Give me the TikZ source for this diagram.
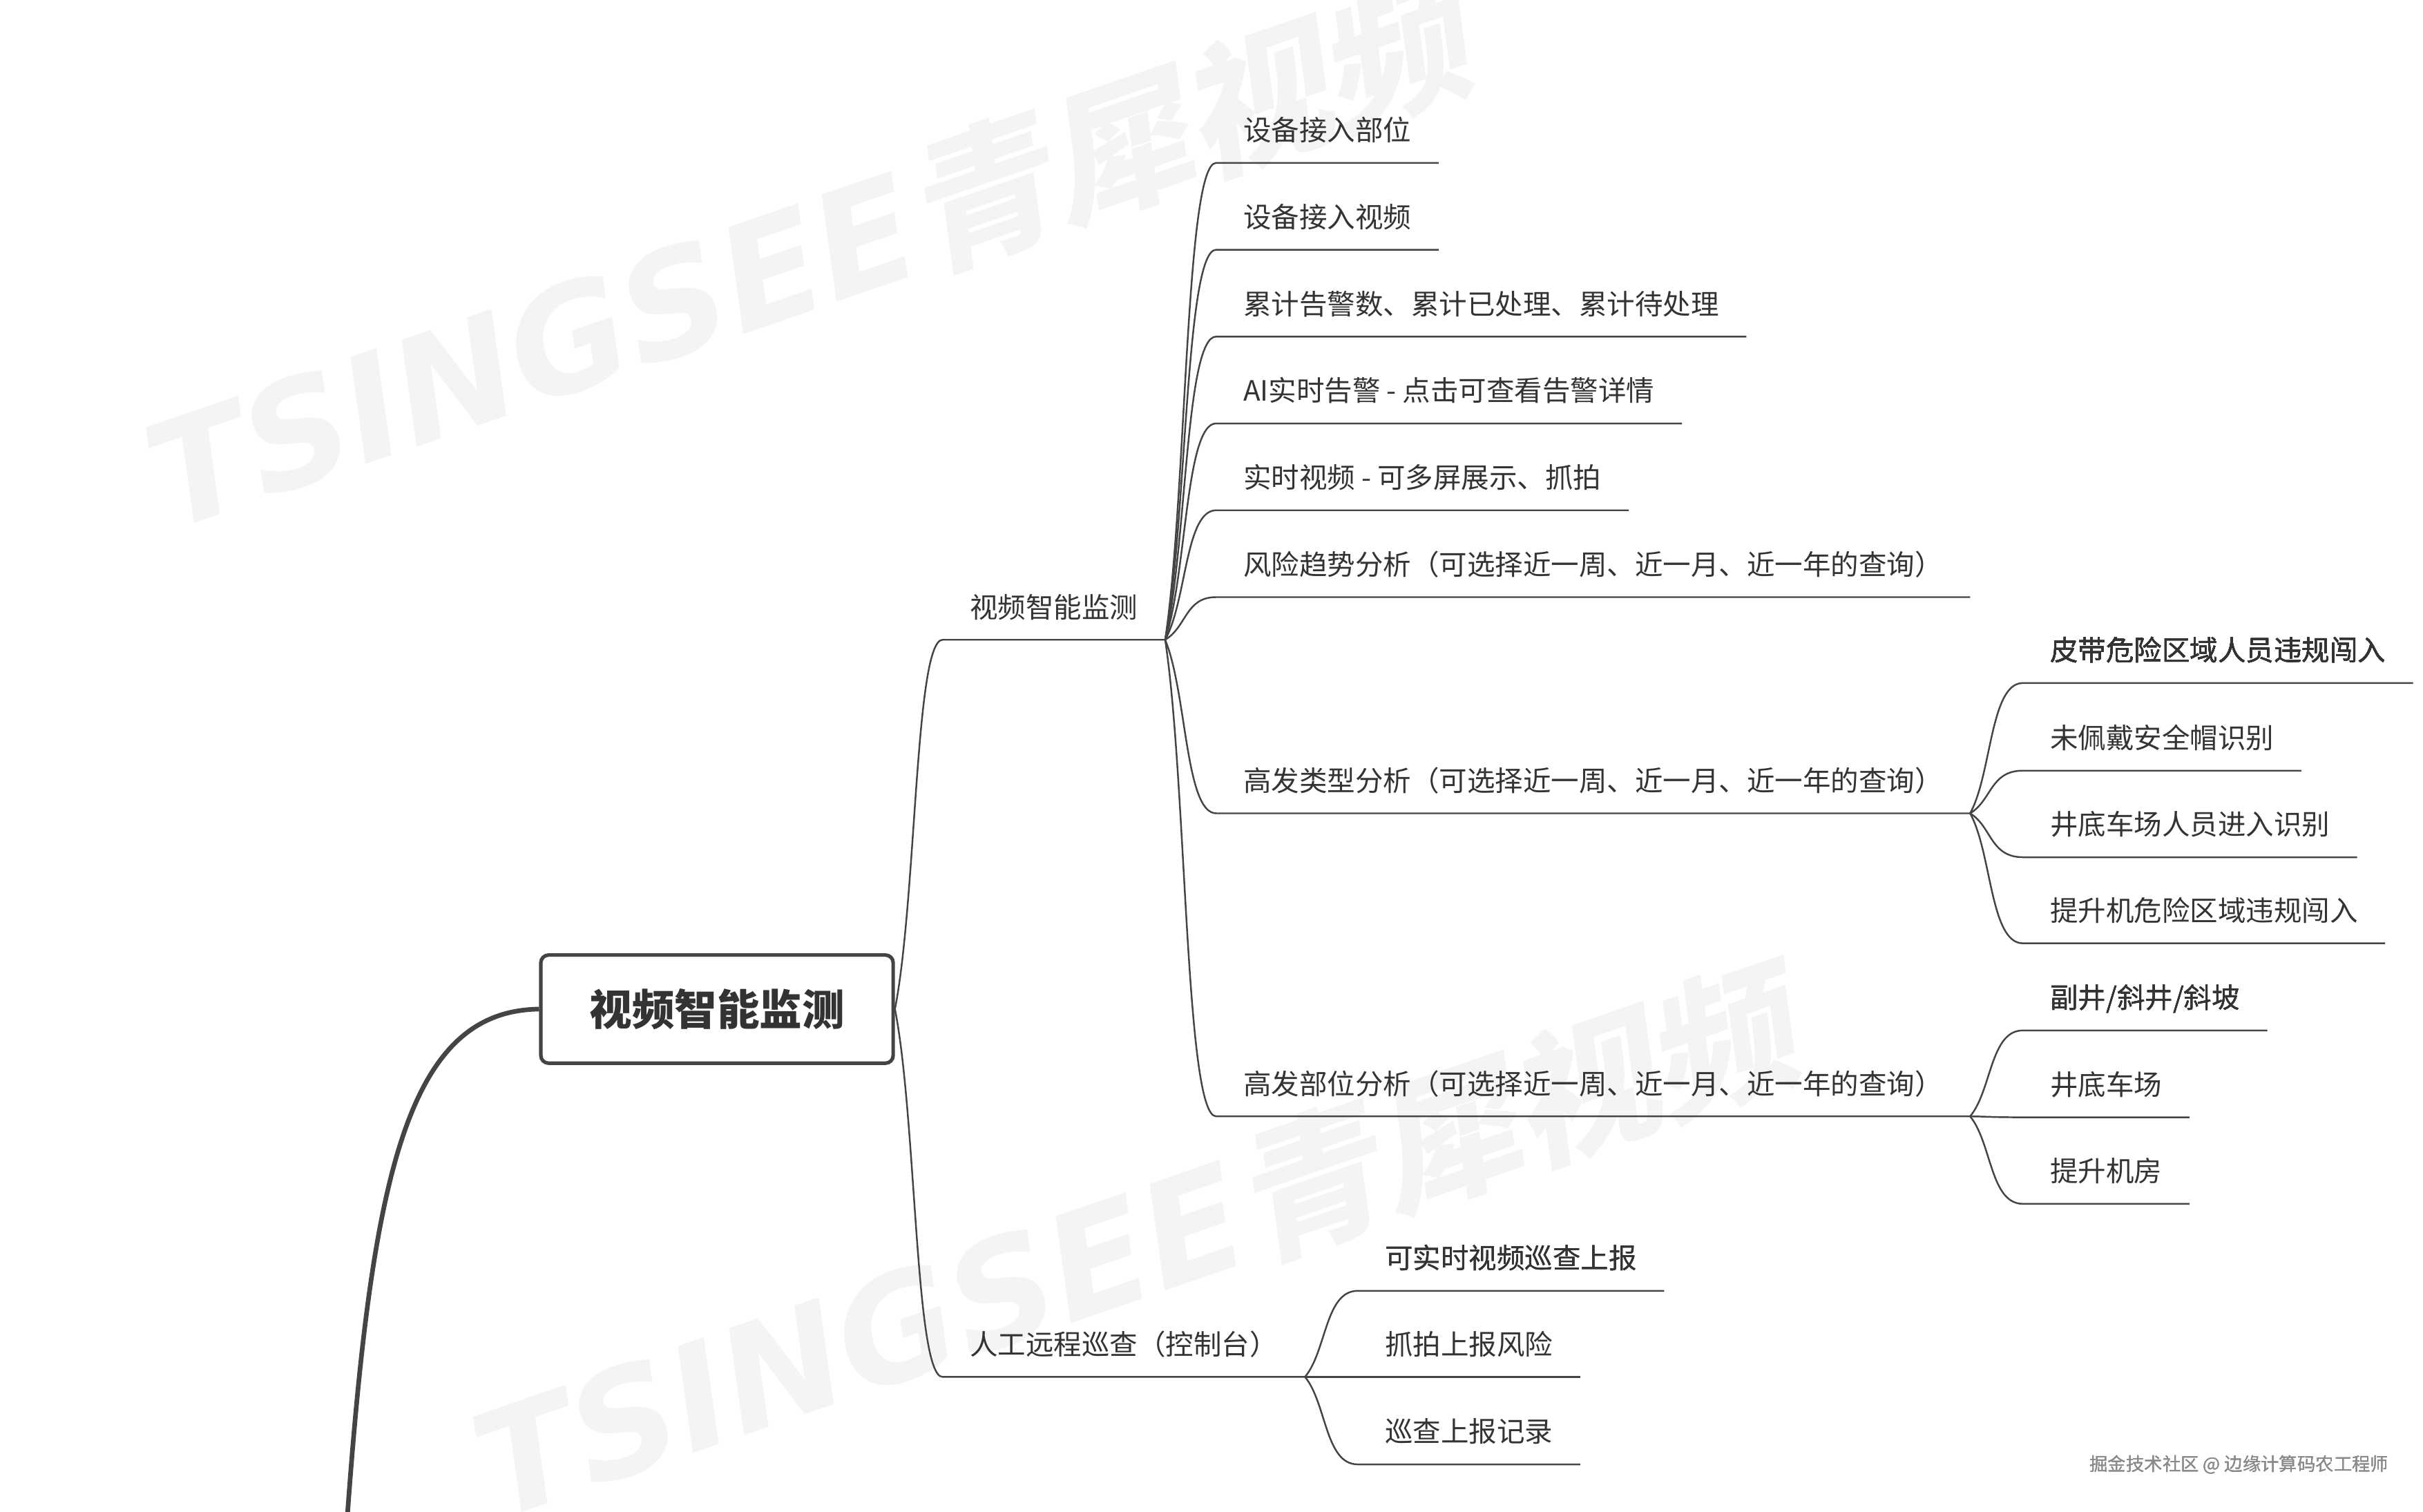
\documentclass[tikz,border=0pt]{standalone}
\usepackage{fontspec}
\newfontfamily\cjk{Noto Sans CJK SC}
\newfontfamily\wmlatin{DejaVu Sans}
\newfontfamily\wmcjk[FakeSlant=0.2]{Noto Sans CJK SC}
\usetikzlibrary{calc}
\definecolor{ink}{HTML}{333333}
\definecolor{wiregray}{HTML}{444444}
\definecolor{wmgray}{HTML}{F4F4F4}
\definecolor{creditgray}{HTML}{8A8A8A}
% curved branch from a point to the underline of a topic
\newcommand\twig[2]{%
  \draw[wire] let \p1=(#1), \p2=(#2.south west) in
    (#1) .. controls (\x1+14pt,{\y1+0.3*(\y2-\y1)}) and (\x1+13pt,\y2) .. (#2.south west) -- (#2.south east);}
\begin{document}
\begin{tikzpicture}[x=1pt,y=-1pt,
    wire/.style={draw=wiregray, line width=1.1pt},
    topic/.style={anchor=south west, inner xsep=17.5pt, inner ysep=12pt,
      text height=14.8pt, text depth=2.2pt, text=ink,
      font=\cjk\fontsize{18.1}{21}\selectfont},
    hubbox/.style={draw=wiregray, line width=2.3pt, rounded corners=5pt, fill=white,
      minimum width=228pt, minimum height=70pt, text=ink,
      font=\cjk\bfseries\fontsize{27.5}{32}\selectfont},
    wmark/.style={anchor=base west, rotate=19, text=wmgray, inner sep=0pt,
      font=\fontsize{94}{100}\selectfont}]
  \useasboundingbox (0,0) rectangle (1568,978);
  \clip (0,0) rectangle (1568,978);
  \fill[white] (0,0) rectangle (1568,978);
  % watermarks
  \node[wmark] (wm1) at (110,344) {{\wmlatin\bfseries\itshape TSINGSEE}{\wmcjk\bfseries 青犀视频}};
  \node[wmark] (wm2) at (322,984) {{\wmlatin\bfseries\itshape TSINGSEE}{\wmcjk\bfseries 青犀视频}};
  % central topic
  \coordinate (stem) at (224,992);
  \node[hubbox] (hub) at (464,653) {视频智能监测};
  \draw[draw=wiregray, line width=3pt] (stem) .. controls (240,765) and (262,654) .. (hub.west);
  % main branches
  \node[topic] (sv) at (610,414) {视频智能监测};
  \node[topic] (rp) at (610,891) {人工远程巡查（控制台）};
  \twig{hub.east}{sv}
  \twig{hub.east}{rp}
  % video monitoring items
  \foreach \t [count=\i] in {设备接入部位, 设备接入视频, 累计告警数、累计已处理、累计待处理,
      AI实时告警 - 点击可查看告警详情, 实时视频 - 可多屏展示、抓拍,
      风险趋势分析（可选择近一周、近一月、近一年的查询）}
    \node[topic] (v\i) at (787,{105.4+56.2*(\i-1)}) {\t};
  \node[topic] (v7) at (787,526.3) {高发类型分析（可选择近一周、近一月、近一年的查询）};
  \node[topic] (v8) at (787,722.4) {高发部位分析（可选择近一周、近一月、近一年的查询）};
  \foreach \i in {1,...,8}
    \twig{sv.south east}{v\i}
  % high-incidence types
  \node[topic] (ty1) at (1309,442) {皮带危险区域人员违规闯入};
  \node[topic] (ty2) at (1309,498.7) {未佩戴安全帽识别};
  \node[topic] (ty3) at (1309,554.7) {井底车场人员进入识别};
  \node[topic] (ty4) at (1309,610.4) {提升机危险区域违规闯入};
  \foreach \i in {1,...,4}
    \twig{v7.south east}{ty\i}
  % high-incidence places
  \node[topic] (pl1) at (1309,666.8) {副井/斜井/斜坡};
  \node[topic] (pl2) at (1309,723) {井底车场};
  \node[topic] (pl3) at (1309,779) {提升机房};
  \foreach \i in {1,...,3}
    \twig{v8.south east}{pl\i}
  % remote patrol
  \node[topic] (pa1) at (878.6,835.3) {可实时视频巡查上报};
  \node[topic] (pa2) at (878.6,891) {抓拍上报风险};
  \node[topic] (pa3) at (878.6,947.6) {巡查上报记录};
  \foreach \i in {1,...,3}
    \twig{rp.south east}{pa\i}
  % credit
  \node[anchor=east, inner sep=0pt, text=creditgray, font=\cjk\fontsize{11.8}{14}\selectfont]
    (credit) at (1546,948) {掘金技术社区 @ 边缘计算码农工程师};
\end{tikzpicture}
\end{document}
